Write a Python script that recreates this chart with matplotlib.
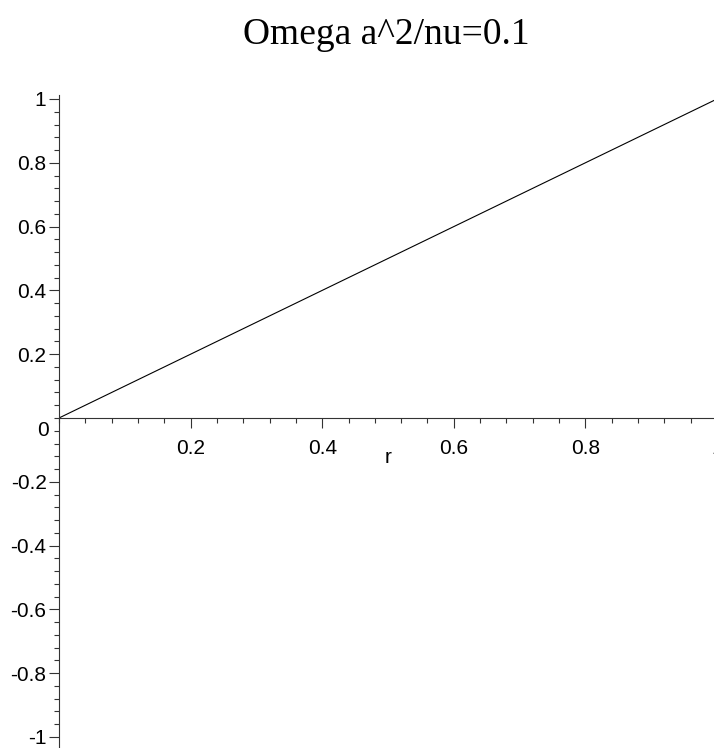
import numpy as np
import matplotlib.pyplot as plt
from matplotlib.ticker import MultipleLocator

OUTFILE = "out.png"

# profile
r = [0.0, 0.2, 0.4, 0.6, 0.8, 1.0]
u = [0.0, 0.2, 0.4, 0.6, 0.8, 1.0]

xticks = [0.2, 0.4, 0.6, 0.8, 1.0]
xticklabels = ['0.2', '0.4', '0.6', '0.8', '1']
yticks = [-1.0, -0.8, -0.6, -0.4, -0.2, 0.2, 0.4, 0.6, 0.8, 1.0]
yticklabels = ['-1', '-0.8', '-0.6', '-0.4', '-0.2', '0.2', '0.4', '0.6', '0.8', '1']

W, H = 714, 748
fig = plt.figure(figsize=(W / 100, H / 100), dpi=100)
ax = fig.add_axes([59 / W, 0, 658 / W, 1 - 95 / H])
ax: plt.Axes

ax.plot(r, u, color='black', lw=0.8)
ax.set_xlim(0, 1)
ax.set_ylim(-1.0345, 1.0125)

for s in ['top', 'right']:
    ax.spines[s].set_visible(False)
ax.spines['left'].set_position(('data', 0))
ax.spines['bottom'].set_position(('data', 0))
for s in ['left', 'bottom']:
    ax.spines[s].set_linewidth(0.8)
    ax.spines[s].set_color('#333333')

ax.set_xticks(xticks, xticklabels)
ax.set_yticks(yticks, yticklabels)
ax.xaxis.set_minor_locator(MultipleLocator(0.04))
ax.yaxis.set_minor_locator(MultipleLocator(0.04))
ax.tick_params(which='major', length=7, width=0.8, color='#333333',
               labelsize=15, labelfontfamily='Liberation Sans')
ax.tick_params(which='minor', length=3.5, width=0.8, color='#333333')
ax.tick_params(axis='x', which='major', pad=8)
ax.tick_params(axis='y', which='major', pad=2)

# the zero label sits below the x axis
ax.text(-0.015, -0.04, '0', ha='right', va='center', fontsize=15,
        family='Liberation Sans')
ax.text(0.5, -0.125, 'r', ha='center', va='center', fontsize=15,
        family='Liberation Sans')

fig.text(386 / W, 1 - 35 / H, 'Omega a^2/nu=0.1', ha='center', va='center',
         fontsize=27, family='Liberation Serif')

fig.savefig(OUTFILE, dpi=100)
